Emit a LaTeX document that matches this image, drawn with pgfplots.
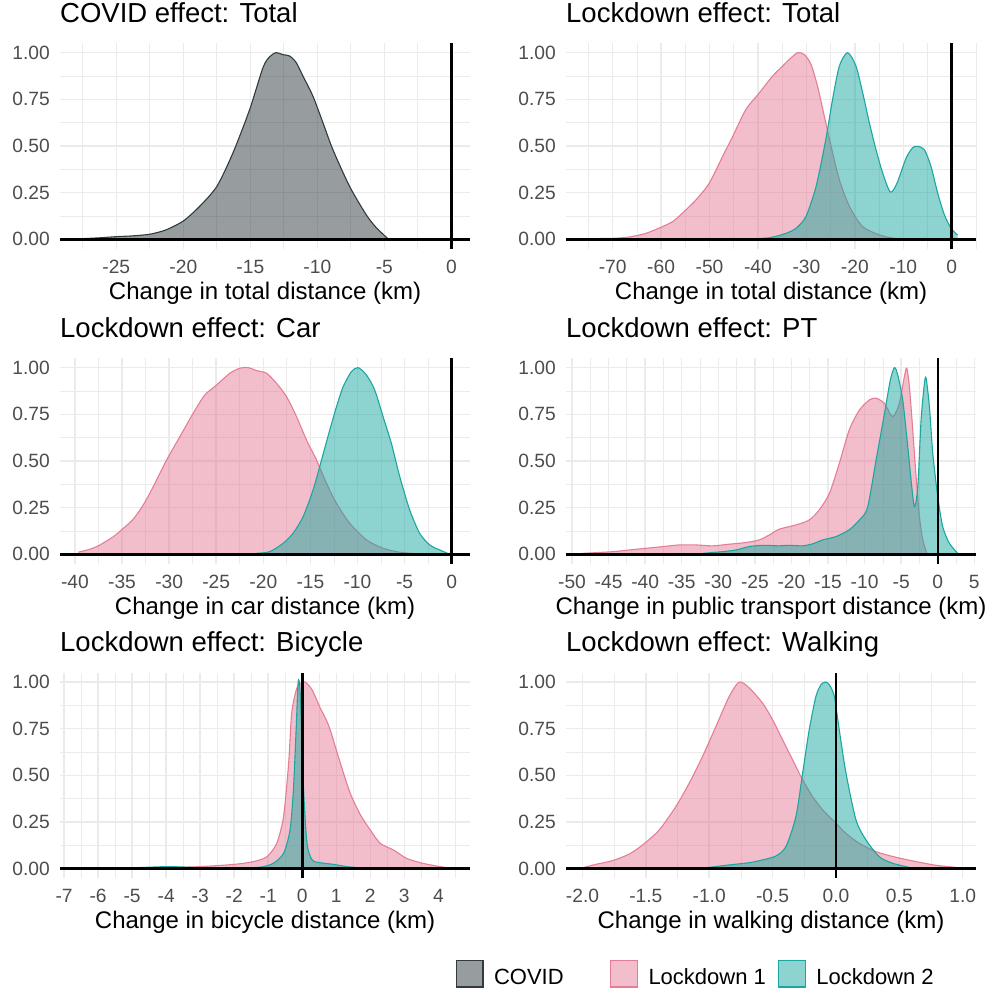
\documentclass[border=0pt]{standalone}
\usepackage{fontspec}
\setmainfont{Liberation Sans}
\usepackage{pgfplots}
\usepackage{pgfplotstable}
\pgfplotsset{compat=1.18}
\definecolor{covid}{HTML}{2F3B3F}
\definecolor{lda}{HTML}{E57D97}
\definecolor{ldb}{HTML}{1BA79F}
\definecolor{gridc}{HTML}{EBEBEB}
\definecolor{tickc}{HTML}{4D4D4D}

% ---------- data (density, scaled to max 1) ----------
\pgfplotstableread{
x y
-28.0 0.000
-27.5 0.003
-26.2 0.008
-25.0 0.014
-23.8 0.018
-22.5 0.027
-21.3 0.050
-20.0 0.098
-18.8 0.175
-17.5 0.283
-16.3 0.462
-15.05 0.695
-14.06 0.919
-13.56 0.978
-13.07 1.000
-12.57 0.989
-12.07 0.982
-11.57 0.946
-11.07 0.874
-10.33 0.767
-9.58 0.624
-8.84 0.480
-7.59 0.283
-6.34 0.130
-5.60 0.062
-4.73 0.003
}\covidT
\pgfplotstableread{
x y
-76.0 0.000
-75.5 0.003
-70.0 0.005
-66.6 0.012
-63.1 0.032
-59.7 0.068
-57.6 0.095
-55.6 0.140
-52.8 0.211
-50.05 0.301
-47.3 0.444
-45.2 0.552
-42.5 0.695
-39.7 0.785
-37.0 0.874
-34.9 0.928
-33.5 0.964
-31.8 1.000
-30.4 0.989
-29.05 0.937
-27.7 0.820
-26.3 0.659
-24.9 0.498
-23.2 0.319
-21.1 0.175
-18.4 0.068
-14.9 0.023
-11.5 0.004
-7.4 0.000
}\lOneT
\pgfplotstableread{
x y
-42.5 0.001
-37.7 0.008
-34.2 0.032
-32.15 0.059
-30.1 0.122
-28.0 0.283
-26.0 0.534
-24.6 0.749
-23.2 0.928
-21.5 1.000
-19.76 0.928
-18.38 0.785
-17.0 0.624
-15.63 0.480
-14.25 0.355
-12.67 0.253
-11.3 0.300
-9.43 0.434
-8.05 0.491
-7.02 0.498
-5.64 0.480
-4.27 0.390
-2.89 0.247
-1.51 0.131
-0.13 0.059
1.2 0.023
}\lTwoT
\pgfplotstableread{
x y
-39.65 0.011
-38.41 0.027
-37.35 0.050
-35.93 0.094
-34.87 0.139
-33.81 0.188
-32.75 0.264
-31.69 0.362
-30.27 0.505
-28.86 0.630
-27.44 0.756
-26.2 0.854
-24.96 0.907
-23.55 0.970
-22.49 0.997
-21.6 1.000
-20.72 0.984
-19.66 0.970
-18.6 0.916
-17.54 0.845
-16.47 0.737
-15.41 0.612
-14.35 0.505
-13.29 0.380
-12.23 0.273
-10.82 0.166
-9.05 0.077
-7.28 0.032
-5.51 0.011
-3.39 0.002
-1.26 0.000
}\lOneC
\pgfplotstableread{
x y
-20.72 0.005
-19.31 0.014
-17.89 0.059
-16.83 0.113
-15.77 0.202
-14.71 0.345
-13.82 0.505
-12.94 0.666
-12.23 0.790
-11.52 0.898
-10.64 0.979
-9.93 1.000
-9.05 0.961
-8.17 0.880
-7.28 0.737
-6.40 0.594
-5.51 0.416
-4.45 0.237
-3.39 0.112
-2.32 0.050
-1.26 0.023
-0.2 0.000
}\lTwoC
\pgfplotstableread{
x y
-48.5 0.005
-44.4 0.014
-41.2 0.027
-39.9 0.032
-37.6 0.041
-35.3 0.050
-33.05 0.050
-30.8 0.045
-28.5 0.054
-26.2 0.063
-24.4 0.077
-23.0 0.104
-21.7 0.134
-19.4 0.157
-17.55 0.184
-16.2 0.238
-14.8 0.327
-13.45 0.488
-12.1 0.666
-10.7 0.773
-9.35 0.827
-8.44 0.836
-7.3 0.809
-6.16 0.737
-5.25 0.809
-4.56 0.952
-4.24 0.997
-3.88 0.900
-3.42 0.666
-2.96 0.416
-2.5 0.200
-2.05 0.077
-1.5 0.005
}\lOneP
\pgfplotstableread{
x y
-32.1 0.005
-29.4 0.014
-27.6 0.023
-25.8 0.041
-23.9 0.048
-21.7 0.045
-20.3 0.048
-18.5 0.045
-17.1 0.056
-15.7 0.077
-13.9 0.095
-12.1 0.131
-10.7 0.184
-9.6 0.250
-8.45 0.500
-7.3 0.750
-6.5 0.930
-5.93 1.000
-5.47 0.961
-4.79 0.827
-4.1 0.577
-3.65 0.398
-3.19 0.255
-2.73 0.362
-2.28 0.719
-1.82 0.916
-1.59 0.943
-1.14 0.791
-0.68 0.541
0.0 0.309
0.68 0.148
1.59 0.059
2.73 0.005
}\lTwoP
\pgfplotstableread{
x y
-4.5 0.002
-4.0 0.005
-3.0 0.011
-2.0 0.023
-1.43 0.038
-1.04 0.064
-0.75 0.136
-0.55 0.279
-0.40 0.565
-0.31 0.834
-0.16 0.967
-0.01 0.998
0.09 1.000
0.29 0.958
0.53 0.860
0.68 0.807
0.82 0.744
1.12 0.565
1.41 0.404
1.71 0.288
2.0 0.207
2.29 0.136
2.68 0.100
3.07 0.055
3.56 0.028
4.05 0.011
4.4 0.002
}\lOneB
\pgfplotstableread{
x y
-5.5 0.001
-4.47 0.008
-3.98 0.011
-3.49 0.009
-3.0 0.005
-2.02 0.004
-1.24 0.008
-0.85 0.029
-0.55 0.082
-0.36 0.207
-0.26 0.422
-0.18 0.744
-0.12 1.000
-0.06 0.941
0.04 0.422
0.14 0.136
0.29 0.047
0.53 0.032
0.92 0.023
1.31 0.011
1.71 0.004
2.1 0.001
}\lTwoB
\pgfplotstableread{
x y
-1.987 0.007
-1.895 0.023
-1.763 0.043
-1.632 0.078
-1.526 0.127
-1.395 0.207
-1.263 0.333
-1.158 0.458
-1.053 0.601
-0.947 0.762
-0.842 0.923
-0.763 1.000
-0.684 0.968
-0.579 0.887
-0.500 0.798
-0.421 0.690
-0.342 0.583
-0.263 0.476
-0.184 0.386
-0.105 0.315
0.000 0.243
0.079 0.189
0.184 0.136
0.316 0.091
0.474 0.061
0.632 0.038
0.790 0.018
0.947 0.007
}\lOneW
\pgfplotstableread{
x y
-1.000 0.007
-0.842 0.020
-0.684 0.032
-0.579 0.047
-0.474 0.068
-0.395 0.118
-0.316 0.279
-0.263 0.512
-0.211 0.744
-0.158 0.923
-0.118 0.986
-0.084 1.000
-0.053 0.986
-0.013 0.923
0.026 0.744
0.079 0.512
0.158 0.261
0.237 0.154
0.342 0.064
0.447 0.029
0.579 0.007
}\lTwoW

\pgfplotsset{
  panel/.style={
    scale only axis, width=410bp, height=205.3bp,
    anchor=south west,
    ymin=-0.05, ymax=1.05,
    axis line style={draw=none},
    major tick length=0pt, minor tick length=0pt,
    grid=both,
    major grid style={color=gridc, line width=1.5bp},
    minor grid style={color=gridc, line width=0.75bp},
    ytick={0,0.25,0.5,0.75,1},
    yticklabels={0.00,0.25,0.50,0.75,1.00},
    minor ytick={0.125,0.375,0.625,0.875},
    tick label style={font=\fontsize{19.2bp}{23bp}\selectfont, text=tickc},
    yticklabel style={anchor=east, inner sep=0pt, xshift=-10bp},
    xticklabel style={anchor=base, inner sep=0pt, yshift=-24.7bp},
    title style={at={(axis description cs:0,1)}, anchor=base west, inner sep=0pt, yshift=15bp, font=\fontsize{27.5bp}{33bp}\selectfont},
    xlabel style={at={(axis description cs:0.5,0)}, anchor=base, inner sep=0pt, yshift=-50.5bp, font=\fontsize{24bp}{29bp}\selectfont},
    every axis plot/.append style={smooth, tension=0.45},
  },
  fillC/.style={fill=covid, fill opacity=0.5, draw=none},
  lineC/.style={color=covid, line width=1.1bp},
  fillA/.style={fill=lda, fill opacity=0.5, draw=none},
  lineA/.style={color=lda, line width=1.1bp},
  fillB/.style={fill=ldb, fill opacity=0.5, draw=none},
  lineB/.style={color=ldb, line width=1.1bp},
  zline/.style={black, line width=2.5bp, sharp plot, forget plot},
}

\begin{document}
\begin{tikzpicture}
\path[use as bounding box] (0,0) rectangle (992bp,989bp);

% Panel 1: COVID total
\begin{axis}[panel, at={(60bp,740.4bp)},
  xmin=-29.2, xmax=1.39,
  xtick={-25,-20,-15,-10,-5,0}, xticklabels={-25,-20,-15,-10,-5,0},
  minor xtick={-27.5,-22.5,-17.5,-12.5,-7.5,-2.5},
  title={COVID effect: Total}, xlabel={Change in total distance (km)}]
\addplot[fillC] table {\covidT} \closedcycle;
\addplot[lineC] table {\covidT};
\addplot[zline] coordinates {(-29.2,0) (1.39,0)};
\addplot[zline] coordinates {(0,-0.05) (0,1.05)};
\end{axis}

% Panel 2: Lockdown total
\begin{axis}[panel, at={(566bp,740.4bp)},
  xmin=-79.64, xmax=5.02,
  xtick={-70,-60,-50,-40,-30,-20,-10,0}, xticklabels={-70,-60,-50,-40,-30,-20,-10,0},
  minor xtick={-75,-65,-55,-45,-35,-25,-15,-5,5},
  title={Lockdown effect: Total}, xlabel={Change in total distance (km)}]
\addplot[fillA] table {\lOneT} \closedcycle;
\addplot[lineA] table {\lOneT};
\addplot[fillB] table {\lTwoT} \closedcycle;
\addplot[lineB] table {\lTwoT};
\addplot[zline] coordinates {(-79.64,0) (5.02,0)};
\addplot[zline] coordinates {(0,-0.05) (0,1.05)};
\end{axis}

% Panel 3: Car
\begin{axis}[panel, at={(60bp,425.4bp)},
  xmin=-41.59, xmax=1.95,
  xtick={-40,-35,-30,-25,-20,-15,-10,-5,0}, xticklabels={-40,-35,-30,-25,-20,-15,-10,-5,0},
  minor xtick={-37.5,-32.5,-27.5,-22.5,-17.5,-12.5,-7.5,-2.5},
  title={Lockdown effect: Car}, xlabel={Change in car distance (km)}]
\addplot[fillA] table {\lOneC} \closedcycle;
\addplot[lineA] table {\lOneC};
\addplot[fillB] table {\lTwoC} \closedcycle;
\addplot[lineB] table {\lTwoC};
\addplot[zline] coordinates {(-41.59,0) (1.95,0)};
\addplot[zline] coordinates {(0,-0.05) (0,1.05)};
\end{axis}

% Panel 4: PT
\begin{axis}[panel, at={(566bp,425.4bp)},
  xmin=-50.82, xmax=5.23,
  xtick={-50,-45,-40,-35,-30,-25,-20,-15,-10,-5,0,5}, xticklabels={-50,-45,-40,-35,-30,-25,-20,-15,-10,-5,0,5},
  minor xtick={-47.5,-42.5,-37.5,-32.5,-27.5,-22.5,-17.5,-12.5,-7.5,-2.5,2.5},
  title={Lockdown effect: PT}, xlabel={Change in public transport distance (km)}]
\addplot[fillA] table {\lOneP} \closedcycle;
\addplot[lineA] table {\lOneP};
\addplot[fillB] table {\lTwoP} \closedcycle;
\addplot[lineB] table {\lTwoP};
\addplot[zline] coordinates {(-50.82,0) (5.23,0)};
\addplot[zline] coordinates {(0,-0.05) (0,1.05)};
\end{axis}

% Panel 5: Bicycle
\begin{axis}[panel, at={(60bp,111bp)},
  xmin=-7.12, xmax=4.93,
  xtick={-7,-6,-5,-4,-3,-2,-1,0,1,2,3,4}, xticklabels={-7,-6,-5,-4,-3,-2,-1,0,1,2,3,4},
  minor xtick={-6.5,-5.5,-4.5,-3.5,-2.5,-1.5,-0.5,0.5,1.5,2.5,3.5,4.5},
  title={Lockdown effect: Bicycle}, xlabel={Change in bicycle distance (km)}]
\addplot[fillA] table {\lOneB} \closedcycle;
\addplot[lineA] table {\lOneB};
\addplot[fillB] table {\lTwoB} \closedcycle;
\addplot[lineB] table {\lTwoB};
\addplot[zline] coordinates {(-7.12,0) (4.93,0)};
\addplot[zline] coordinates {(0,-0.05) (0,1.05)};
\end{axis}

% Panel 6: Walking (+ legend)
\begin{axis}[panel, at={(566bp,111bp)},
  xmin=-2.13, xmax=1.105,
  xtick={-2,-1.5,-1,-0.5,0,0.5,1}, xticklabels={-2.0,-1.5,-1.0,-0.5,0.0,0.5,1.0},
  minor xtick={-1.75,-1.25,-0.75,-0.25,0.25,0.75},
  title={Lockdown effect: Walking}, xlabel={Change in walking distance (km)},
  legend columns=3,
  legend style={at={(axis description cs:-0.269,-0.4659)}, anchor=west, draw=none, fill=none,
    inner sep=0pt, outer sep=0pt, font=\fontsize{22bp}{26bp}\selectfont,
    nodes={inner sep=0pt}, column sep=10.5bp},
  legend cell align=left,
  legend image code/.code={\draw[#1, line width=1.1bp] (0bp,-9.7bp) rectangle (26.7bp,17bp);},
]
\addlegendimage{fill=covid!50!white, draw=covid}
\addlegendentry{\makebox[105.7bp][l]{COVID}}
\addlegendimage{fill=lda!50!white, draw=lda}
\addlegendentry{\makebox[119bp][l]{Lockdown 1}}
\addlegendimage{fill=ldb!50!white, draw=ldb}
\addlegendentry{Lockdown 2}
\addplot[fillA, forget plot] table {\lOneW} \closedcycle;
\addplot[lineA, forget plot] table {\lOneW};
\addplot[fillB, forget plot] table {\lTwoW} \closedcycle;
\addplot[lineB, forget plot] table {\lTwoW};
\addplot[zline] coordinates {(-2.13,0) (1.105,0)};
\addplot[zline] coordinates {(0,-0.05) (0,1.05)};
\end{axis}
\end{tikzpicture}
\end{document}
